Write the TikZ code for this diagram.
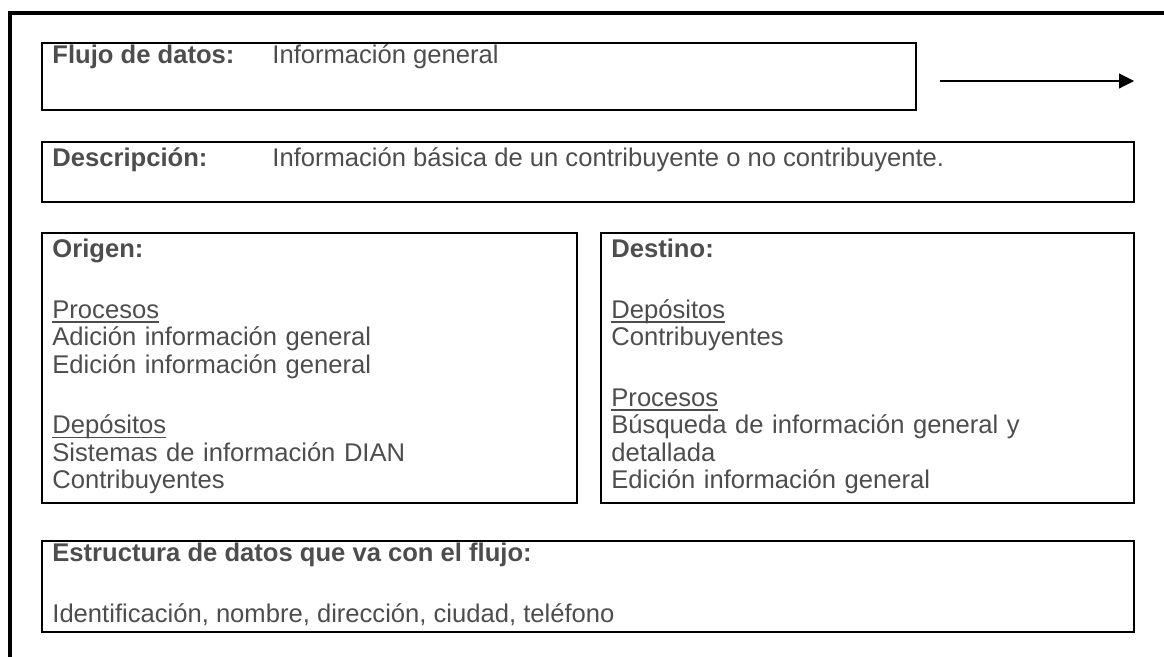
\documentclass[tikz,border=0pt]{standalone}
\usepackage{fontspec}
\setmainfont{Liberation Sans}
\usetikzlibrary{arrows.meta,fit,positioning}
\definecolor{textgray}{HTML}{4D4D4D}

% underline just under the baseline
\newcommand{\subtit}[1]{\leavevmode\setbox0\hbox{#1}\rlap{\rule[-2.2pt]{\wd0}{0.7pt}}\box0}

\tikzset{
  frame/.style={line width=2pt, line join=miter},
  box/.style={draw, line width=1pt, inner sep=0pt},
  txt/.style={inner sep=0pt, anchor=base west, text=textgray,
    font=\fontsize{12.8}{13.75}\selectfont},
  lbl/.style={txt, font=\fontsize{12.8}{13.75}\selectfont\bfseries},
  txtblock/.style={txt, text width=#1, align=left},
}

\begin{document}
\begin{tikzpicture}[x=0.5pt,y=-0.5pt]
  \useasboundingbox (0,0) rectangle (1164,657);
  % outer frame
  \draw[frame] (9.5,657) -- (9.5,13) -- (1164,13);

  % boxes
  \node[box, fit={(42,43) (916,110)}] (flujo) {};
  \node[box, fit={(42,142) (1134,202)}] (desc) {};
  \node[box, fit={(42,233) (577,503)}] (origen) {};
  \node[box, fit={(601,233) (1134,503)}] (destino) {};
  \node[box, fit={(42,541) (1134,632)}] (estructura) {};

  % texts
  \node[lbl] (flujolbl) at (52,64) {Flujo de datos:};
  \node[txt] (flujoval) at (272,64) {Información general};
  \node[lbl] (desclbl) at (52,167) {Descripción:};
  \node[txt] (descval) at (272,167) {Información básica de un contribuyente o no contribuyente.};

  \node[txtblock=250pt] (origentxt) at (52,258) {\textbf{Origen:}\\[16.5pt]
    \subtit{Procesos}\\
    Adición información general\\
    Edición información general\\[16.5pt]
    \subtit{Depósitos}\\
    Sistemas de información DIAN\\
    Contribuyentes};
  \node[txtblock=250pt] (destinotxt) at (611,258) {\textbf{Destino:}\\[16.5pt]
    \subtit{Depósitos}\\
    Contribuyentes\\[16.5pt]
    \subtit{Procesos}\\
    Búsqueda de información general y\\
    detallada\\
    Edición información general};

  \node[lbl] (estrlbl) at (52,562) {Estructura de datos que va con el flujo:};
  \node[txt] (estrval) at (52,623) {Identificación, nombre, dirección, ciudad, teléfono};

  % flow arrow
  \coordinate (flecha-ini) at (940,81);
  \coordinate (flecha-fin) at (1134,81);
  \draw[-{Triangle[length=7.5pt,width=7.5pt]}, line width=0.6pt] (flecha-ini) -- (flecha-fin);
\end{tikzpicture}
\end{document}
